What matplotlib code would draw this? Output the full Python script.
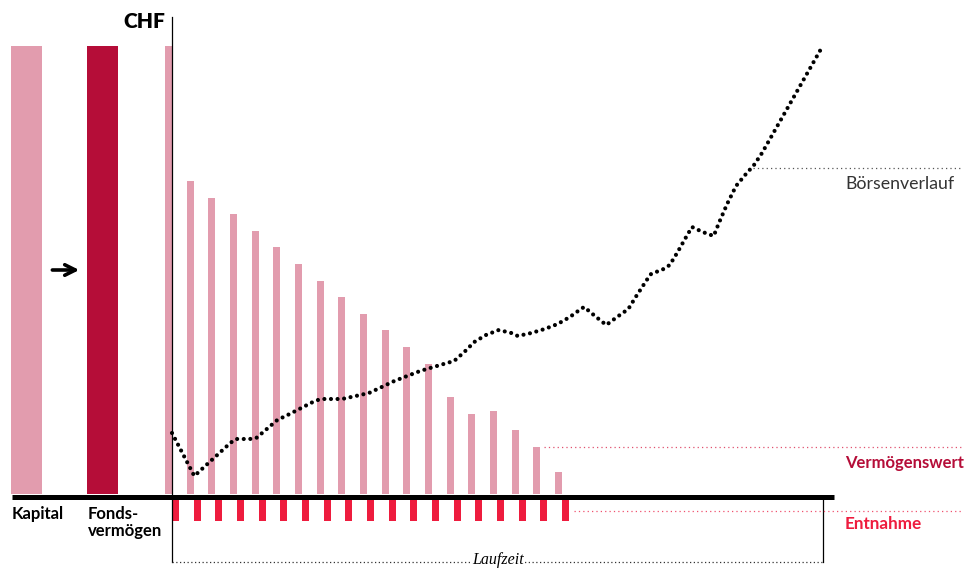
import matplotlib.pyplot as plt
import numpy as np

# fund value after each yearly withdrawal (index units, year 0..18)
years = np.arange(19)
fund_value = [448, 313, 296, 280, 263, 247, 230, 213, 197, 180,
              164, 147, 130, 97, 80, 83, 64, 47, 22]
withdrawal = [22] * 19

# starting capital and fund assets
start_labels = ['Kapital', 'Fonds-\nvermögen']
start_values = [448, 448]

# market path (year, index level)
market_t = [0.00, 1.03, 2.69, 2.95, 3.59, 3.89, 4.86, 5.43, 6.59, 6.88,
            7.85, 8.48, 9.09, 9.68, 10.26, 11.45, 12.69, 13.02, 13.49, 13.95,
            14.49, 15.08, 15.66, 15.96, 16.58, 17.20, 17.80, 18.36, 18.87, 19.02,
            19.52, 20.04, 20.54, 21.06, 21.40, 21.91, 22.11, 22.69, 22.97, 23.31,
            23.78, 24.00, 24.49, 25.00, 25.24, 25.62, 26.03, 26.45, 26.86, 27.23,
            30.03]
market_v = [61, 18, 51, 55, 55, 56, 74, 80, 93, 95,
            95, 98, 101, 107, 113, 123, 131, 133, 142, 152,
            159, 164, 161, 158, 161, 165, 170, 177, 185, 187,
            178, 169, 177, 185, 197, 214, 220, 225, 229, 241,
            259, 267, 262, 258, 271, 290, 308, 319, 329, 341,
            448]

pink = '#e29cae'
dark_red = '#b50d38'
red = '#ee1c3e'
sans = ['Lato', 'DejaVu Sans']

fig = plt.figure(figsize=(9.67, 5.68), dpi=100)
ax = fig.add_axes([0, 0, 1, 1])
ax.set_xlim(-7.938, 36.69)
ax.set_ylim(-74, 494)
ax.axis('off')

# capital and fund columns on the left
ax.bar([-7.43, -3.92], start_values, width=1.43, align='edge',
       color=[pink, dark_red])
ax.text(-7.38, -12, start_labels[0], fontsize=12, fontweight='bold',
        family=sans, ha='left', va='top')
ax.text(-3.88, -12, start_labels[1], fontsize=12, fontweight='bold',
        family=sans, ha='left', va='top', linespacing=1.1)
ax.annotate('', xy=(-4.15, 224), xytext=(-5.65, 224),
            arrowprops=dict(arrowstyle='->', lw=2.6, color='black',
                            mutation_scale=19))

# yearly fund value and withdrawals
ax.bar(years, fund_value, width=-0.323, align='edge', color=pink)
ax.bar(years, [-w for w in withdrawal], bottom=-5, width=0.323,
       align='edge', color=red)

# market development
ax.plot(market_t, market_v, color='black', lw=3.0,
        linestyle=(0, (0.001, 1.58)), dash_capstyle='round')

# axes lines
ax.plot([-7.38, 30.56], [-2.5, -2.5], color='black', lw=3.6,
        solid_capstyle='butt')
ax.plot([0, 0], [-68, 477], color='black', lw=0.9)
ax.plot([30.04, 30.04], [-68, -5], color='black', lw=0.9)
ax.plot([0, 30.04], [-68, -68], color='#333333', lw=0.9,
        linestyle=(0, (1, 2)))
ax.text(15.05, -70, 'Laufzeit', fontsize=11.5, style='italic',
        family=['Liberation Serif', 'DejaVu Serif'], ha='center',
        va='baseline', bbox=dict(facecolor='white', edgecolor='none', pad=0.3))
ax.text(-0.32, 472, 'CHF', fontsize=15, fontweight='heavy',
        family=sans, ha='right', va='center')

# legend labels on the right
ax.plot([26.81, 36.5], [326, 326], color='#555555', lw=0.9,
        linestyle=(0, (1, 2.5)))
ax.text(31.06, 310, 'Börsenverlauf', fontsize=12.8, color='#333333',
        family=sans, ha='left', va='center')
ax.plot([17.17, 36.5], [47, 47], color='#e0506e', lw=0.9,
        linestyle=(0, (1, 2.5)))
ax.text(31.06, 31, 'Vermögenswert', fontsize=12, fontweight='bold',
        color=dark_red, family=sans, ha='left', va='center')
ax.plot([18.55, 36.5], [-17, -17], color='#f0506e', lw=0.9,
        linestyle=(0, (1, 2.5)))
ax.text(31.06, -30, 'Entnahme', fontsize=12.3, fontweight='bold',
        color=red, family=sans, ha='left', va='center')

fig.savefig('out.png', dpi=100)
